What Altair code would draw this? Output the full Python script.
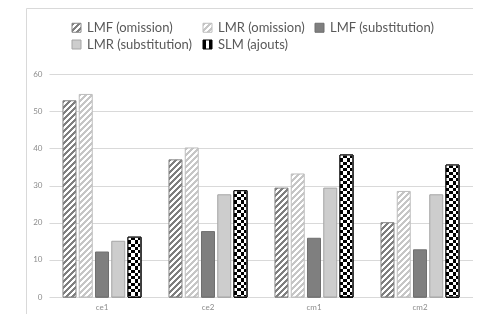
import json
import altair as alt
import pandas as pd

# ---------------- data ----------------
categories = ["ce1", "ce2", "cm1", "cm2"]
series = ["LMF (omission)", "LMR (omission)", "LMF (substitution)",
          "LMR (substitution)", "SLM (ajouts)"]
lmf_omission = [52.8, 36.9, 29.3, 20.0]
lmr_omission = [54.5, 40.1, 33.1, 28.4]
lmf_substitution = [12.1, 17.6, 15.8, 12.7]
lmr_substitution = [15.0, 27.5, 29.3, 27.5]
slm_ajouts = [16.1, 28.6, 38.2, 35.5]
y_ticks = [0, 10, 20, 30, 40, 50, 60]

values_by_series = [lmf_omission, lmr_omission, lmf_substitution,
                    lmr_substitution, slm_ajouts]

# ---------------- layout / style ----------------
PLOT_W, PLOT_H = 424, 223
PAD = {"left": 41, "top": 66, "right": 0, "bottom": 17}
Y_MAX = 60
OFF_PAD_IN, OFF_PAD_OUT = 0.2, 0.86
FONT = "Lato"
GRID = "#d9d9d9"

kinds = ["hatch", "hatch", "solid", "solid", "checker"]
main_col = ["#7f7f7f", "#c6c6c6", "#7f7f7f", "#cdcdcd", "#000000"]
stroke_col = ["#858585", "#bdbdbd", "#6f6f6f", "#a5a5a5", "#000000"]

HATCH_P = 6.0      # hatch period (px, along x or y)
CHECK_C = 3.25     # checker cell size (px)


def stripes(length, period, frac, c_on, c_off):
    stops = []
    i = 0
    while i * period < length:
        a, b, c = i * period, i * period + period * frac, (i + 1) * period
        for off, col in ((a, c_on), (b, c_on), (b, c_off), (c, c_off)):
            stops.append({"offset": round(min(off / length, 1.0), 5), "color": col})
        i += 1
    return stops


def hatch_grad(w, h, color):
    k = (w + h) / (w * w + h * h)
    return {"gradient": "linear", "x1": 0, "y1": 0, "x2": k * w, "y2": k * h,
            "stops": stripes(w + h, HATCH_P, 0.5, color, "#ffffff")}


# bar geometry from the scales
x_step = PLOT_W / len(categories)
off_step = x_step / (len(series) - OFF_PAD_IN + 2 * OFF_PAD_OUT)
bar_w = off_step * (1 - OFF_PAD_IN)

rows = []
for si, s in enumerate(series):
    for ci, c in enumerate(categories):
        v = values_by_series[si][ci]
        h = v / Y_MAX * PLOT_H
        row = {"category": c, "series": s, "value": v, "zero": 0,
               "stroke_color": stroke_col[si]}
        if kinds[si] == "hatch":
            row["grad"] = hatch_grad(bar_w, h, main_col[si])
        elif kinds[si] == "solid":
            row["grad"] = main_col[si]
        else:
            row["grad"] = {"gradient": "linear", "x1": 0, "y1": 0, "x2": 1, "y2": 0,
                           "stops": stripes(bar_w, 2 * CHECK_C, 0.5, "#000000", "#ffffff")}
            row["gradB"] = {"gradient": "linear", "x1": 0, "y1": 0, "x2": 0, "y2": 1,
                            "stops": stripes(h, 2 * CHECK_C, 0.5, "#ffffff", "#000000")}
        rows.append(row)

data = alt.Data(values=rows)

# legend symbol fills (9px squares)
SYM = 9
legend_fill = []
for si in range(len(series)):
    if kinds[si] == "hatch":
        g = {"gradient": "linear", "x1": 0, "y1": 0, "x2": 1, "y2": 1,
             "stops": stripes(2 * SYM, HATCH_P, 0.5, main_col[si], "#ffffff")}
        legend_fill.append({"expr": json.dumps(g)})
    elif kinds[si] == "solid":
        legend_fill.append(main_col[si])
    else:
        g = {"gradient": "linear", "x1": 0, "y1": 0, "x2": 1, "y2": 0,
             "stops": stripes(SYM, 6, 0.5, "#000000", "#ffffff")}
        legend_fill.append({"expr": json.dumps(g)})

x_enc = alt.X("category:N", sort=categories, title=None,
              scale=alt.Scale(domain=categories, paddingInner=0, paddingOuter=0),
              axis=alt.Axis(labelFont=FONT, labelFontSize=8, labelColor="#8c8c8c",
                            ticks=False, domain=False, labelPadding=6, labelAngle=0,
                            grid=False))
xo_enc = alt.XOffset("series:N", sort=series,
                     scale=alt.Scale(domain=series, paddingInner=OFF_PAD_IN,
                                     paddingOuter=OFF_PAD_OUT))
y_scale = alt.Scale(domain=[0, Y_MAX], nice=False, zero=True)
y_axis = alt.Axis(values=y_ticks, grid=True, gridColor=GRID, domain=False,
                  ticks=False, labelFont=FONT, labelFontSize=8,
                  labelColor="#8c8c8c", labelPadding=7)


def y_enc(field):
    return alt.Y(f"{field}:Q", stack=None, scale=y_scale, title=None, axis=y_axis)


legend = alt.Legend(title=None, orient="none", legendX=21, legendY=-53,
                    columns=3, direction="horizontal", symbolType="square",
                    symbolSize=SYM * SYM, symbolStrokeWidth=1, labelFont=FONT,
                    labelFontSize=13, labelColor="#595959", labelOffset=4,
                    columnPadding=8, rowPadding=3, gridAlign="each")

legend_layer = alt.Chart(data).mark_bar().encode(
    x=x_enc, xOffset=xo_enc,
    y=y_enc("zero"),
    fill=alt.Fill("series:N", sort=series, legend=legend,
                  scale=alt.Scale(domain=series, range=legend_fill)),
    stroke=alt.Stroke("series:N", sort=series, legend=legend,
                      scale=alt.Scale(domain=series, range=stroke_col)),
)

bars = alt.Chart(data).mark_bar(strokeWidth=1).encode(
    x=x_enc, xOffset=xo_enc,
    y=y_enc("value"),
    fill=alt.Fill("grad:N", scale=None, legend=None),
    stroke=alt.Stroke("stroke_color:N", scale=None, legend=None),
)

slm_filter = alt.datum.series == series[4]

checker_b = alt.Chart(data).transform_filter(slm_filter).mark_bar(
    blend="difference", strokeWidth=0).encode(
    x=x_enc, xOffset=xo_enc,
    y=y_enc("value"),
    fill=alt.Fill("gradB:N", scale=None, legend=None),
)

checker_outline = alt.Chart(data).transform_filter(slm_filter).mark_bar(
    fillOpacity=0, stroke="#000000", strokeWidth=1).encode(
    x=x_enc, xOffset=xo_enc,
    y=y_enc("value"),
)

frame_data = alt.Data(values=[{"k": 0}])
frame_top = alt.Chart(frame_data).mark_rule(color=GRID, strokeWidth=1).encode(
    x=alt.value(-22.5), x2=alt.value(PLOT_W + 10), y=alt.value(-PAD["top"] + 0.5))
frame_left = alt.Chart(frame_data).mark_rule(color=GRID, strokeWidth=1).encode(
    x=alt.value(-22.5), y=alt.value(-PAD["top"] + 0.5), y2=alt.value(PLOT_H + 30))

chart = alt.layer(
    legend_layer, bars, checker_b, checker_outline, frame_top, frame_left
).properties(
    width=PLOT_W, height=PLOT_H,
    autosize=alt.AutoSizeParams(type="none"),
    padding=PAD,
    background="white",
).configure_view(stroke=None)

chart.save("out.html", embed_options={"renderer": "svg", "actions": False})
